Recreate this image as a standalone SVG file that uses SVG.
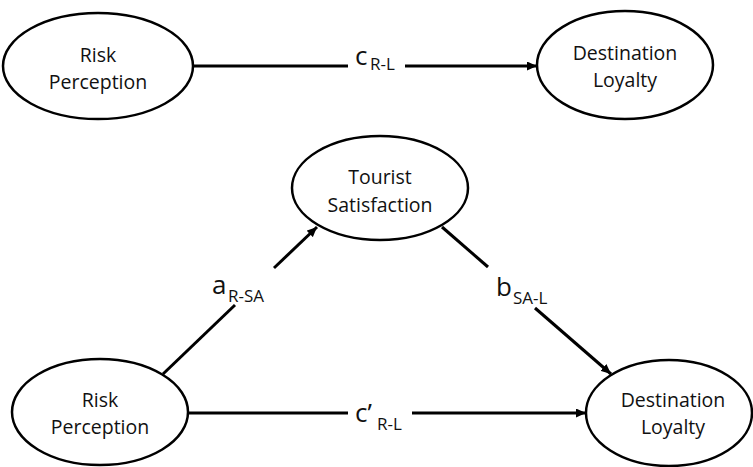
<svg xmlns="http://www.w3.org/2000/svg" width="753" height="467" viewBox="0 0 753 467">
<style>
.node ellipse{fill:#fff;stroke:#000;stroke-width:2.5}
.node text{font-family:"Open Sans","Liberation Sans",sans-serif;font-size:19.5px;fill:#111;text-anchor:middle}
.edge{stroke:#000;stroke-width:3;fill:none}
.lbl{font-family:"Open Sans","Liberation Sans",sans-serif;fill:#111}
.big{font-size:26px}
.sub{font-size:17px}
</style>
<defs>
<marker id="arr" markerUnits="userSpaceOnUse" markerWidth="11" markerHeight="9" refX="10" refY="4.5" orient="auto">
<path d="M0,0 L10,4.5 L0,9 z" fill="#000"/>
</marker>
</defs>
<rect width="753" height="467" fill="#fff"/>
<g id="connectors">
<path class="edge" d="M193,66 L348,66"/>
<path class="edge" d="M405,66 L537,66" marker-end="url(#arr)"/>
<path class="edge" d="M188,413 L348,413"/>
<path class="edge" d="M412,413 L586,413" marker-end="url(#arr)"/>
<path class="edge" d="M163,374 L235,305"/>
<path class="edge" d="M274,268 L317,227" marker-end="url(#arr)"/>
<path class="edge" d="M442,227 L488,267"/>
<path class="edge" d="M535,308 L611,374" marker-end="url(#arr)"/>
<text class="lbl big" x="355" y="65">c<tspan class="sub" x="370" y="70">R-L</tspan></text>
<text class="lbl big" x="355" y="422">c’<tspan class="sub" x="377" y="430">R-L</tspan></text>
<text class="lbl big" x="212" y="294">a<tspan class="sub" x="228" y="302">R-SA</tspan></text>
<text class="lbl big" x="496" y="296">b<tspan class="sub" x="513" y="304">SA-L</tspan></text>
</g>
<g id="risk1" class="node">
<ellipse cx="98" cy="66" rx="95" ry="53"/>
<text x="98" y="62">Risk</text>
<text x="98" y="89">Perception</text>
</g>
<g id="loyalty1" class="node">
<ellipse cx="625" cy="65" rx="88" ry="54"/>
<text x="625" y="60">Destination</text>
<text x="625" y="87">Loyalty</text>
</g>
<g id="satisfaction" class="node">
<ellipse cx="380" cy="188" rx="88" ry="52"/>
<text x="380" y="184">Tourist</text>
<text x="380" y="212">Satisfaction</text>
</g>
<g id="risk2" class="node">
<ellipse cx="100" cy="412" rx="88" ry="53"/>
<text x="100" y="407">Risk</text>
<text x="100" y="434">Perception</text>
</g>
<g id="loyalty2" class="node">
<ellipse cx="669" cy="413" rx="83" ry="53"/>
<text x="673" y="407">Destination</text>
<text x="673" y="434">Loyalty</text>
</g>
</svg>
